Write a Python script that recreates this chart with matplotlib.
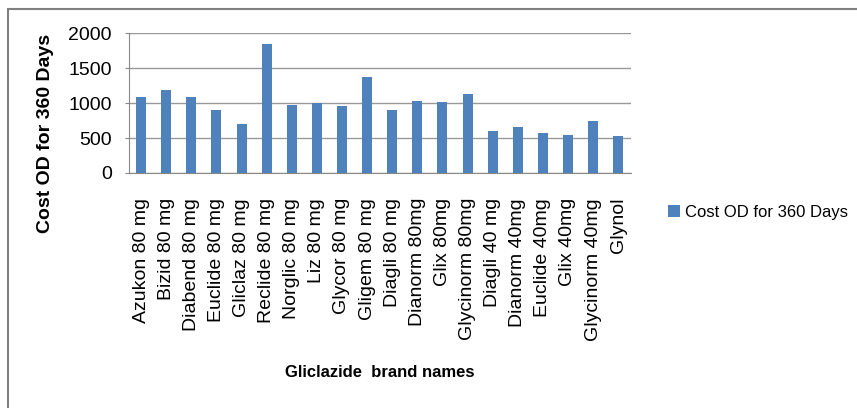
import matplotlib.pyplot as plt
from matplotlib.patches import Rectangle

brands = ["Azukon 80 mg", "Bizid 80 mg", "Diabend 80 mg", "Euclide 80 mg",
          "Gliclaz 80 mg", "Reclide 80 mg", "Norglic 80 mg", "Liz 80 mg",
          "Glycor 80 mg", "Gligem 80 mg", "Diagli 80 mg", "Dianorm 80mg",
          "Glix 80mg", "Glycinorm 80mg", "Diagli 40 mg", "Dianorm 40mg",
          "Euclide 40mg", "Glix 40mg", "Glycinorm 40mg", "Glynol"]
cost = [1080, 1185, 1080, 900, 700, 1850, 970, 1000, 960, 1365, 900,
        1035, 1020, 1125, 595, 660, 565, 550, 745, 535]

plt.rcParams['font.family'] = ['Liberation Sans', 'DejaVu Sans']

fig = plt.figure(figsize=(8.57, 4.08), dpi=100)
ax = fig.add_axes([0.150, 0.576, 0.586, 0.343])

ax.bar(range(len(brands)), cost, width=0.4, color='#4F81BD',
       label='Cost OD for 360 Days', zorder=3)
ax.set_xlim(-0.5, len(brands) - 0.5)
ax.set_ylim(0, 2000)
ax.set_yticks([0, 500, 1000, 1500, 2000])
ax.set_xticks(range(len(brands)))
ax.set_xticklabels(brands, rotation=90, fontsize=14)
ax.tick_params(axis='y', labelsize=14, length=3, color='#888888', pad=9)
ax.tick_params(axis='x', length=0, pad=18)
ax.grid(axis='y', color='#999999', linewidth=1, zorder=0)

for side in ['top', 'right']:
    ax.spines[side].set_visible(False)
ax.spines['left'].set_color('#888888')
ax.spines['bottom'].set_color('#888888')

fig.text(0.053, 0.674, 'Cost OD for 360 Days', fontsize=14, fontweight='bold',
         rotation=90, ha='center', va='center')
fig.text(0.443, 0.088, 'Gliclazide  brand names', fontsize=12,
         fontweight='bold', ha='center', va='center')

fig.legend(loc='center left', bbox_to_anchor=(0.762, 0.48), frameon=False,
           fontsize=12, handlelength=0.7, handleheight=0.7, handletextpad=0.3)

fig.patches.append(Rectangle((8 / 857, -0.1), 1.2, 1.1 - 9 / 408,
                             transform=fig.transFigure, fill=False,
                             edgecolor='#808080', linewidth=1.5))

fig.savefig('out.png', dpi=100)
